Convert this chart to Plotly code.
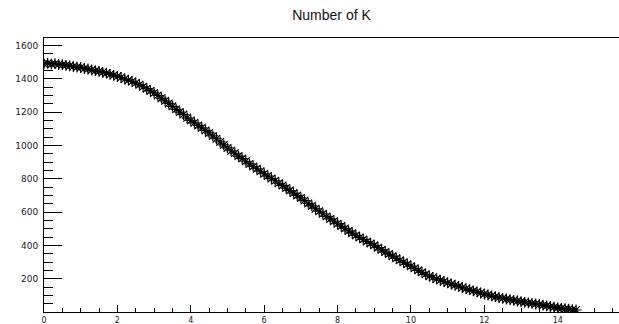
import plotly.graph_objects as go

title_text = "Number of K"

time = [
    0.0, 0.1, 0.2, 0.3, 0.4, 0.5, 0.6, 0.7, 0.8, 0.9,
    1.0, 1.1, 1.2, 1.3, 1.4, 1.5, 1.6, 1.7, 1.8, 1.9,
    2.0, 2.1, 2.2, 2.3, 2.4, 2.5, 2.6, 2.7, 2.8, 2.9,
    3.0, 3.1, 3.2, 3.3, 3.4, 3.5, 3.6, 3.7, 3.8, 3.9,
    4.0, 4.1, 4.2, 4.3, 4.4, 4.5, 4.6, 4.7, 4.8, 4.9,
    5.0, 5.1, 5.2, 5.3, 5.4, 5.5, 5.6, 5.7, 5.8, 5.9,
    6.0, 6.1, 6.2, 6.3, 6.4, 6.5, 6.6, 6.7, 6.8, 6.9,
    7.0, 7.1, 7.2, 7.3, 7.4, 7.5, 7.6, 7.7, 7.8, 7.9,
    8.0, 8.1, 8.2, 8.3, 8.4, 8.5, 8.6, 8.7, 8.8, 8.9,
    9.0, 9.1, 9.2, 9.3, 9.4, 9.5, 9.6, 9.7, 9.8, 9.9,
    10.0, 10.1, 10.2, 10.3, 10.4, 10.5, 10.6, 10.7, 10.8, 10.9,
    11.0, 11.1, 11.2, 11.3, 11.4, 11.5, 11.6, 11.7, 11.8, 11.9,
    12.0, 12.1, 12.2, 12.3, 12.4, 12.5, 12.6, 12.7, 12.8, 12.9,
    13.0, 13.1, 13.2, 13.3, 13.4, 13.5, 13.6, 13.7, 13.8, 13.9,
    14.0, 14.1, 14.2, 14.3, 14.4, 14.5,
]

number_of_k = [
    1490, 1493, 1488, 1491, 1486, 1485, 1481, 1478, 1474, 1470,
    1468, 1462, 1459, 1453, 1449, 1445, 1439, 1434, 1427, 1421,
    1415, 1408, 1399, 1392, 1384, 1375, 1365, 1352, 1341, 1327,
    1315, 1300, 1284, 1268, 1252, 1235, 1217, 1200, 1185, 1166,
    1150, 1136, 1120, 1106, 1090, 1075, 1057, 1040, 1021, 1003,
    985, 968, 953, 936, 921, 905, 889, 874, 860, 845,
    830, 816, 801, 788, 773, 760, 744, 729, 714, 700,
    685, 669, 652, 637, 620, 605, 590, 574, 559, 545,
    530, 516, 502, 487, 473, 460, 448, 436, 423, 412,
    400, 386, 373, 360, 348, 335, 322, 310, 298, 286,
    275, 262, 250, 238, 226, 215, 207, 199, 190, 183,
    175, 168, 161, 154, 147, 140, 134, 127, 121, 114,
    108, 103, 97, 92, 87, 82, 78, 74, 70, 66,
    62, 58, 55, 52, 48, 45, 41, 37, 33, 29,
    25, 22, 20, 17, 14, 12,
]

x_ticks = [0, 2, 4, 6, 8, 10, 12, 14]
y_ticks = [200, 400, 600, 800, 1000, 1200, 1400, 1600]

fig = go.Figure()
fig.add_trace(go.Scatter(
    x=time, y=number_of_k, mode="markers",
    marker=dict(symbol="asterisk-open", size=9, color="black",
                line=dict(color="black", width=1.2)),
    showlegend=False,
))

y_tick_font = dict(family="DejaVu Sans", size=9, color="#222222")
x_tick_font = dict(family="DejaVu Sans", size=8, color="#222222")

fig.update_layout(
    width=619, height=324,
    margin=dict(l=44, r=0, t=38, b=12),
    paper_bgcolor="white", plot_bgcolor="white",
    title=dict(text=title_text, x=0.5, xref="paper", xanchor="center",
               y=1 - 15 / 324, yref="container", yanchor="middle",
               font=dict(family="Liberation Sans", size=14, color="#111111")),
    xaxis=dict(
        range=[0, 15.67], showgrid=False, zeroline=False,
        showline=True, linecolor="black", linewidth=1, mirror=True,
        tickmode="array", tickvals=x_ticks, ticktext=[str(v) for v in x_ticks],
        ticks="inside", ticklen=7, tickwidth=1, tickcolor="black",
        minor=dict(dtick=0.5, tick0=0, ticks="inside", ticklen=4,
                   tickwidth=1, tickcolor="black", showgrid=False),
        tickfont=x_tick_font, ticklabelstandoff=0, automargin=False,
    ),
    yaxis=dict(
        range=[0, 1645], showgrid=False, zeroline=False,
        showline=True, linecolor="black", linewidth=1, mirror=False,
        tickmode="array", tickvals=y_ticks, ticktext=[str(v) for v in y_ticks],
        ticks="inside", ticklen=18, tickwidth=1, tickcolor="black",
        minor=dict(dtick=50, tick0=0, ticks="inside", ticklen=9,
                   tickwidth=1, tickcolor="black", showgrid=False),
        tickfont=y_tick_font, ticklabelstandoff=3, automargin=False,
    ),
)

fig.write_html("out.html")
